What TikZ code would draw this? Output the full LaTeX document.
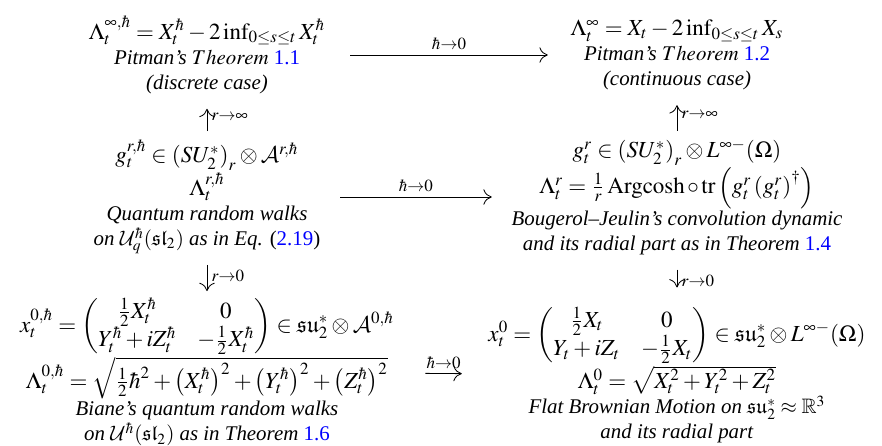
\documentclass[tikz,border=0pt]{standalone}
\usepackage{amsmath,amssymb}
\usepackage{mathptmx}
\usepackage[no-math]{fontspec}
\setmainfont{Liberation Serif}
\usepackage{xcolor}
\usetikzlibrary{arrows.meta}
\DeclareMathAlphabet{\mathcal}{OMS}{cmsy}{m}{n}
\newcommand{\thref}[1]{\textcolor{blue}{#1}}
\newcommand{\mline}[1]{{\fontsize{11}{13}\selectfont$#1$}}

\begin{document}
\begin{tikzpicture}[
  x=0.4785pt, y=-0.4785pt,
  box/.style={align=center, inner sep=3pt},
  arr/.style={-{To[length=1.4mm,width=2.6mm]}, shorten >=4pt, shorten <=4pt},
  lbl/.style={inner sep=2pt, font=\fontsize{11}{13}\selectfont}
]
\useasboundingbox (0,0) rectangle (882,446);
\node[box, minimum width=128.7pt] (tl) at (207,55) {\mline{\Lambda_t^{\infty,\hbar} = X_t^\hbar - 2\inf_{0\le s\le t} X_t^\hbar}\\
  \textit{Pitman's} $Theorem$ \thref{1.1}\\ \textit{(discrete case)}};
\node[box, minimum width=115.3pt] (tr) at (677,55) {\mline{\Lambda_t^{\infty} = X_t - 2\inf_{0\le s\le t} X_s}\\
  \textit{Pitman's} $Theorem$ \thref{1.2}\\ \textit{(continuous case)}};
\node[box, minimum width=119.1pt] (ml) at (207,197) {\mline{g_t^{r,\hbar} \in \left(SU_2^*\right)_r \otimes \mathcal{A}^{r,\hbar}}\\
  \mline{\Lambda_t^{r,\hbar}}\\ \textit{Quantum random walks}\\
  \textit{on $\mathcal{U}_q^\hbar(\mathfrak{sl}_2)$ as in Eq.} (\thref{2.19})};
\node[box, minimum width=168.9pt] (mr) at (677,197) {\mline{g_t^{r} \in \left(SU_2^*\right)_r \otimes L^{\infty-}(\Omega)}\\
  \mline{\Lambda_t^r = \frac{1}{r}\operatorname{Argcosh}\circ\operatorname{tr}\left(g_t^r\left(g_t^r\right)^\dagger\right)}\\
  \textit{Bougerol--Jeulin's convolution dynamic}\\
  \textit{and its radial part as in Theorem} \thref{1.4}};
\node[box, minimum width=200.5pt] (bl) at (207,372) {\mline{x_t^{0,\hbar} = \begin{pmatrix} \frac12 X_t^\hbar & 0\\ Y_t^\hbar + iZ_t^\hbar & -\frac12 X_t^\hbar\end{pmatrix} \in \mathfrak{su}_2^*\otimes\mathcal{A}^{0,\hbar}}\\
  \mline{\Lambda_t^{0,\hbar} = \sqrt{\frac12\hbar^2 + \left(X_t^\hbar\right)^2 + \left(Y_t^\hbar\right)^2 + \left(Z_t^\hbar\right)^2}}\\
  \textit{Biane's quantum random walks}\\
  \textit{on $\mathcal{U}^\hbar(\mathfrak{sl}_2)$ as in Theorem} \thref{1.6}};
\node[box, minimum width=197.6pt] (br) at (677,375) {\mline{x_t^{0} = \begin{pmatrix} \frac12 X_t & 0\\ Y_t + iZ_t & -\frac12 X_t\end{pmatrix} \in \mathfrak{su}_2^*\otimes L^{\infty-}(\Omega)}\\
  \mline{\Lambda_t^{0} = \sqrt{X_t^2 + Y_t^2 + Z_t^2}}\\
  \textit{Flat Brownian Motion on $\mathfrak{su}_2^*\approx\mathbb{R}^3$}\\
  \textit{and its radial part}};
\draw[arr] (tl) -- node[above, lbl] {$\scriptstyle\hbar\to0$} (tr);
\draw[arr] (ml) -- node[above, lbl] {$\scriptstyle\hbar\to0$} (mr);
\draw[arr] (bl) -- node[above, lbl] {$\scriptstyle\hbar\to0$} (br);
\draw[arr, shorten <=1pt] (ml) -- node[right, lbl] {$\scriptstyle r\to\infty$} (tl);
\draw[arr, shorten <=1pt] (mr) -- node[right, lbl] {$\scriptstyle r\to\infty$} (tr);
\draw[arr, shorten <=2pt, shorten >=0pt] (ml) -- node[right, lbl] {$\scriptstyle r\to0$} (bl);
\draw[arr, shorten >=6pt] (mr) -- node[right, lbl] {$\scriptstyle r\to0$} (br);
\end{tikzpicture}
\end{document}
